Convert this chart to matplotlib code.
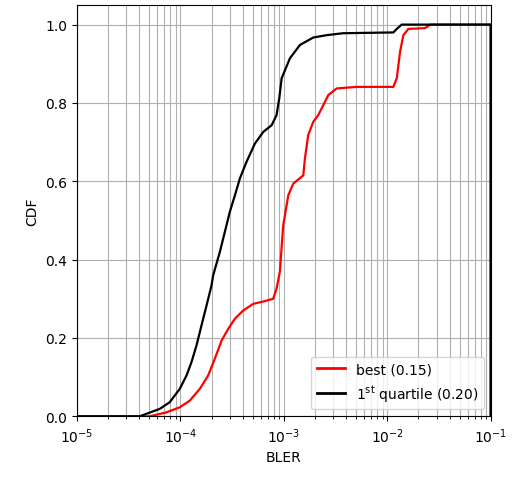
import numpy as np
import matplotlib.pyplot as plt

# log10(BLER) breakpoints and empirical CDF values
best_log_bler = [-4.296, -4.135, -4.006, -3.909, -3.812, -3.732, -3.667, -3.602,
                 -3.538, -3.473, -3.393, -3.296, -3.199, -3.103, -3.070, -3.038,
                 -3.006, -2.957, -2.909, -2.812, -2.796, -2.764, -2.715, -2.667,
                 -2.619, -2.570, -2.489, -2.295, -1.941, -1.908, -1.876, -1.844,
                 -1.796, -1.634, -1.585]
best_cdf = [0.000, 0.010, 0.023, 0.040, 0.070, 0.104, 0.147, 0.193,
            0.223, 0.249, 0.270, 0.287, 0.293, 0.300, 0.326, 0.370,
            0.487, 0.564, 0.594, 0.615, 0.658, 0.718, 0.752, 0.769,
            0.794, 0.820, 0.837, 0.841, 0.841, 0.863, 0.931, 0.973,
            0.989, 0.991, 1.000]

q1_log_bler = [-4.393, -4.199, -4.103, -4.006, -3.941, -3.893, -3.844, -3.796,
               -3.747, -3.699, -3.683, -3.619, -3.570, -3.522, -3.473, -3.425,
               -3.360, -3.280, -3.199, -3.118, -3.070, -3.044, -3.021, -2.941,
               -2.844, -2.715, -2.586, -2.425, -1.941, -1.908, -1.860]
q1_cdf = [0.000, 0.019, 0.036, 0.070, 0.104, 0.138, 0.181, 0.232,
          0.283, 0.334, 0.360, 0.419, 0.471, 0.522, 0.564, 0.607,
          0.650, 0.696, 0.726, 0.743, 0.769, 0.812, 0.863, 0.914,
          0.948, 0.967, 0.973, 0.978, 0.980, 0.989, 1.000]

x_min, x_max = 1e-5, 1e-1


def plot_cdf(ax, log_bler, cdf, **kw):
    # closed outline like a cumulative step histogram: starts on the baseline
    # at x_min, ends with a drop back to 0 at x_max
    x = np.concatenate([[x_min], 10.0 ** np.array(log_bler), [x_max, x_max]])
    y = np.concatenate([[0.0], cdf, [cdf[-1], 0.0]])
    ax.plot(x, y, **kw)


fig = plt.figure(figsize=(5.13, 4.85), dpi=100)
ax = fig.add_axes([0.150, 0.1396, 0.8065, 0.848])

plot_cdf(ax, best_log_bler, best_cdf, color="red", linewidth=1.6, label="best (0.15)")
plot_cdf(ax, q1_log_bler, q1_cdf, color="black", linewidth=1.6,
         label=r"1$^{\mathrm{st}}$ quartile (0.20)")

ax.set_xscale("log")
ax.set_xlim(x_min, x_max)
ax.set_ylim(0, 1.05)
ax.set_xlabel("BLER")
ax.set_ylabel("CDF")
ax.grid(True, which="both")
leg = ax.legend(loc="lower right")
for line in leg.get_lines():
    line.set_linewidth(2)

fig.savefig("out.png", dpi=100)
